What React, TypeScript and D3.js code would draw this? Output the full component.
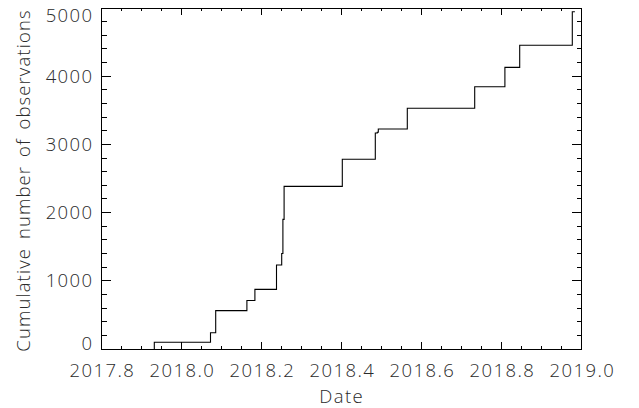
import React from "react";
import * as d3 from "d3";

// Data: observation jump dates (decimal year) and cumulative counts after each jump
const obsDates = [
  2017.9315, 2018.072, 2018.085, 2018.163, 2018.183, 2018.237, 2018.25,
  2018.253, 2018.256, 2018.4015, 2018.484, 2018.489, 2018.4915, 2018.564,
  2018.7325, 2018.808, 2018.845, 2018.9765,
];
const cumulative = [
  98, 239, 562, 711, 875, 1232, 1400, 1900, 2385, 2782, 3167, 3178, 3226,
  3529, 3846, 4130, 4453, 4946,
];
const endDate = 2018.983;

const xTicks = [2017.8, 2018.0, 2018.2, 2018.4, 2018.6, 2018.8, 2019.0];
const yTicks = [0, 1000, 2000, 3000, 4000, 5000];
const xTitle = "Date";
const yTitle = "Cumulative number of observations";

const W = 639;
const H = 408;

export default function App() {
  const x0 = 101.7;
  const x1 = 581.7;
  const yTop = 8;
  const yBot = 349;
  const x = d3.scaleLinear().domain([2017.8, 2019.0]).range([x0, x1]);
  const y = d3.scaleLinear().domain([0, 5000]).range([yBot, yTop]);

  const pts: [number, number][] = [[obsDates[0], 0]];
  obsDates.forEach((d, i) => pts.push([d, cumulative[i]]));
  pts.push([endDate, cumulative[cumulative.length - 1]]);
  const line = d3
    .line<[number, number]>()
    .x((d) => x(d[0]))
    .y((d) => y(d[1]))
    .curve(d3.curveStepAfter);

  const xMinor = d3.range(0, 25).map((i) => 2017.8 + i * 0.05);
  const yMinor = d3.range(0, 26).map((i) => i * 200);
  const xMajLen = 6.8, xMinLen = 3.4, yMajLen = 9.6, yMinLen = 4.8;
  const font = "'Open Sans', sans-serif";
  const textFill = "#2a2a2a";
  const fs = 18.5;

  // keep end labels inside the axis extent
  const yLabelPos = (v: number) =>
    Math.min(Math.max(y(v), yTop + 7), yBot - 6) + fs * 0.36;

  return (
    <svg
      width={W}
      height={H}
      style={{ position: "absolute", left: 0, top: 0, display: "block", background: "#fff" }}
    >
      <g stroke="#000" strokeWidth={1} fill="none" shapeRendering="crispEdges">
        <rect x={x0} y={yTop} width={x1 - x0} height={yBot - yTop} />
        {xMinor.map((v, i) => {
          const major = i % 4 === 0;
          const len = major ? xMajLen : xMinLen;
          return (
            <g key={"xt" + i}>
              <line x1={x(v)} x2={x(v)} y1={yBot} y2={yBot - len} />
              <line x1={x(v)} x2={x(v)} y1={yTop} y2={yTop + len} />
            </g>
          );
        })}
        {yMinor.map((v, i) => {
          const major = i % 5 === 0;
          const len = major ? yMajLen : yMinLen;
          return (
            <g key={"yt" + i}>
              <line x1={x0} x2={x0 + len} y1={y(v)} y2={y(v)} />
              <line x1={x1} x2={x1 - len} y1={y(v)} y2={y(v)} />
            </g>
          );
        })}
      </g>
      <path d={line(pts) || ""} fill="none" stroke="#000" strokeWidth={1.1} />
      <g fontFamily={font} fontSize={fs} fontWeight={300} fill={textFill} letterSpacing={1.4}>
        {xTicks.map((v) => (
          <text key={"xl" + v} x={x(v) + 0.7} y={377} textAnchor="middle">
            {v.toFixed(1)}
          </text>
        ))}
        {yTicks.map((v) => (
          <text key={"yl" + v} x={93.5} y={yLabelPos(v)} textAnchor="end">
            {v}
          </text>
        ))}
        <text x={(x0 + x1) / 2} y={402.5} textAnchor="middle">
          {xTitle}
        </text>
        <text
          transform={`translate(30,${(yTop + yBot) / 2 + 2}) rotate(-90)`}
          textAnchor="middle"
          letterSpacing={1.1}
          wordSpacing={3}
        >
          {yTitle}
        </text>
      </g>
    </svg>
  );
}
